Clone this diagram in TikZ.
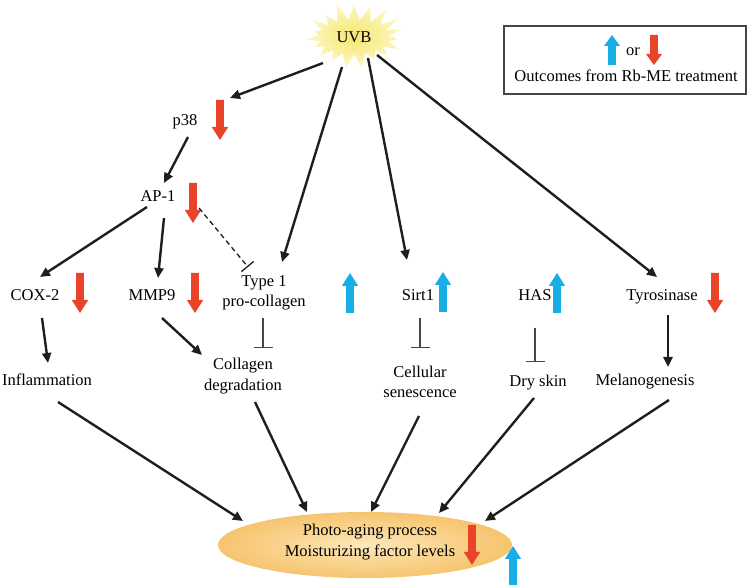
\documentclass[tikz,border=0pt]{standalone}
\usepackage{fontspec}
\setmainfont{Liberation Serif}
\usetikzlibrary{arrows.meta,shapes.geometric,shapes.symbols}
\definecolor{redA}{RGB}{233,67,42}
\definecolor{blueA}{RGB}{25,174,230}
\definecolor{lineC}{RGB}{30,30,30}
\definecolor{inhC}{RGB}{70,70,70}
\begin{document}
\begin{tikzpicture}[x=1pt,y=-1pt,
  txt/.style={font=\fontsize{16.5}{20.5}\selectfont, inner sep=0pt, text height=11pt, text depth=3pt},
  txttwo/.style={font=\fontsize{16.5}{20.5}\selectfont, inner sep=0pt, align=center},
  arr/.style={draw=lineC, line width=2.4pt, -{Triangle[length=10pt,width=9pt]}},
  inh/.style={draw=inhC, line width=1.1pt, -{Bar[width=19pt,line width=1.1pt]}},
  dinh/.style={draw=lineC, line width=1.3pt, dash pattern=on 5pt off 3.5pt, -{Bar[width=16pt,line width=1.3pt]}},
  pics/downred/.style={code={\fill[redA] (-3.8,-20) -- (-3.8,7) -- (-8.2,7) -- (0,20) -- (8.2,7) -- (3.8,7) -- (3.8,-20) -- cycle;}},
  pics/upblue/.style={code={\fill[blueA] (-3.8,20) -- (-3.8,-7) -- (-8.2,-7) -- (0,-20) -- (8.2,-7) -- (3.8,-7) -- (3.8,20) -- cycle;}},
  pics/downreds/.style={code={\fill[redA] (-3.8,-15) -- (-3.8,4) -- (-8,4) -- (0,15) -- (8,4) -- (3.8,4) -- (3.8,-15) -- cycle;}},
  pics/upblues/.style={code={\fill[blueA] (-3.8,15) -- (-3.8,-4) -- (-8,-4) -- (0,-15) -- (8,-4) -- (3.8,-4) -- (3.8,15) -- cycle;}}
]
\useasboundingbox (0,0) rectangle (748,585);

% UVB star
\node[starburst, starburst points=19, starburst point height=20pt, random starburst=11,
  minimum width=110pt, minimum height=74pt, inner sep=0pt,
  inner color={rgb,255:red,245;green,230;blue,115}, outer color={rgb,255:red,253;green,248;blue,195},
  font=\fontsize{16.5}{20.5}\selectfont] (uvb) at (354,37) {UVB};

% legend
\node[draw=inhC, line width=1.2pt, minimum width=242pt, minimum height=68pt, inner sep=0pt] (legbox) at (625,60) {};
\node[txt] (legor) at (633,52) {or};
\node[txt] (legtext) at (626,78) {Outcomes from Rb-ME treatment};
\pic at (612,50) {upblues};
\pic at (654,50) {downreds};

% text nodes
\node[txt] (p38) at (185,122) {p38};
\node[txt] (ap1) at (158,198) {AP-1};
\node[txt] (cox) at (35,297) {COX-2};
\node[txt] (mmp) at (152,297) {MMP9};
\node[txttwo] (typ) at (264,293) {Type 1\\pro-collagen};
\node[txt] (sirt) at (418,297) {Sirt1};
\node[txt] (has) at (535,297) {HAS};
\node[txt] (tyr) at (662,297) {Tyrosinase};
\node[txt] (infl) at (47,382) {Inflammation};
\node[txttwo] (coll) at (243,376) {Collagen\\degradation};
\node[txttwo] (cell) at (420,382) {Cellular\\senescence};
\node[txt] (dry) at (538,383) {Dry skin};
\node[txt] (mel) at (645,382) {Melanogenesis};

% ellipse
\node[ellipse, minimum width=294pt, minimum height=66pt, inner sep=0pt,
  inner color={rgb,255:red,253;green,232;blue,185}, outer color={rgb,255:red,246;green,196;blue,110}] (pap) at (365,545) {};
\node[txttwo] (paptext) at (370,542) {Photo-aging process\\Moisturizing factor levels};

% block arrows
\pic at (220,120) {downred};
\pic at (193,203) {downred};
\pic at (80,293) {downred};
\pic at (195,293) {downred};
\pic at (715,293) {downred};
\pic at (350,293) {upblue};
\pic at (443,292) {upblue};
\pic at (557,293) {upblue};
\pic at (513,566) {upblue};
\pic at (472,545) {downred};

% connectors
\draw[arr] ([shift={(-31,26)}]uvb.center) -- ([shift={(45,-24)}]p38.center);
\draw[arr] ([shift={(-12,30)}]uvb.center) -- ([shift={(18,-31)}]typ.center);
\draw[arr] ([shift={(14,21)}]uvb.center) -- ([shift={(-11,-37)}]sirt.center);
\draw[arr] ([shift={(23,18)}]uvb.center) -- ([shift={(-5,-20)}]tyr.center);
\draw[arr] ([shift={(3,15)}]p38.center) -- ([shift={(6,-15)}]ap1.center);
\draw[arr] ([shift={(-11,9)}]ap1.center) -- ([shift={(5,-20)}]cox.center);
\draw[arr] ([shift={(6,20)}]ap1.center) -- ([shift={(6,-19)}]mmp.center);
\draw[dinh] ([shift={(41,10)}]ap1.center) -- ([shift={(-16,-26)}]typ.center);
\draw[arr] ([shift={(7,21)}]cox.center) -- ([shift={(1,-19)}]infl.center);
\draw[arr] ([shift={(10,21)}]mmp.center) -- ([shift={(-41,-21)}]coll.center);
\draw[inh] ([shift={(-1,25)}]typ.center) -- ([shift={(20,-28)}]coll.center);
\draw[inh] ([shift={(2,21)}]sirt.center) -- ([shift={(0,-34)}]cell.center);
\draw[inh] ([shift={(0,31)}]has.center) -- ([shift={(-3,-21)}]dry.center);
\draw[arr] ([shift={(6,18)}]tyr.center) -- ([shift={(23,-15)}]mel.center);
\draw[arr] ([shift={(11,20)}]infl.center) -- ([shift={(-122,-24)}]pap.center);
\draw[arr] ([shift={(12,26)}]coll.center) -- ([shift={(-58,-33)}]pap.center);
\draw[arr] ([shift={(-1,34)}]cell.center) -- ([shift={(6,-33)}]pap.center);
\draw[arr] ([shift={(-4,15)}]dry.center) -- ([shift={(74,-32)}]pap.center);
\draw[arr] ([shift={(24,18)}]mel.center) -- ([shift={(120,-24)}]pap.center);
\end{tikzpicture}
\end{document}
